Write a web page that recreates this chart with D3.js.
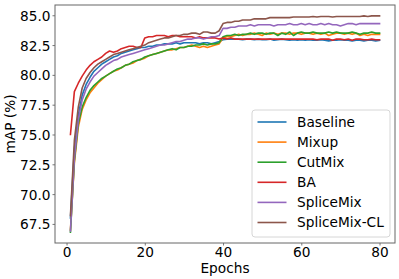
<!DOCTYPE html>
<html>
<head>
<meta charset="utf-8">
<script src="https://cdnjs.cloudflare.com/ajax/libs/d3/7.8.5/d3.min.js"></script>
<style>
    body { margin: 0; background: #fff; }
    svg { display: block; font-family: 'DejaVu Sans', sans-serif; }
</style>
</head>
<body>
<svg id="chart" width="399" height="279"></svg>
<script>
    // mAP per epoch
    var seriesNames = ['Baseline', 'Mixup', 'CutMix', 'BA', 'SpliceMix', 'SpliceMix-CL'];
    var seriesColors = ['#1f77b4', '#ff7f0e', '#2ca02c', '#d62728', '#9467bd', '#8c564b'];
    var yTicks = [67.5, 70.0, 72.5, 75.0, 77.5, 80.0, 82.5, 85.0];
    var xTicks = [0, 20, 40, 60, 80];

    var baseline = [
        68.0, 73.8, 76.6, 78.3, 79.2, 79.8, 80.3, 80.6, 80.9, 81.1,
        81.3, 81.5, 81.6, 81.8, 81.9, 82.0, 82.1, 82.2, 82.3, 82.3,
        82.4, 82.4, 82.5, 82.5, 82.6, 82.6, 82.6, 82.7, 82.6, 82.7,
        82.7, 82.7, 82.7, 82.6, 82.7, 82.7, 82.6, 82.7, 82.8, 82.95,
        83.0, 83.0, 83.0, 83.0, 82.95, 83.0, 83.0, 82.95, 83.0, 82.95,
        82.95, 83.0, 82.9, 82.95, 83.0, 82.95, 82.9, 82.95, 82.9, 82.95,
        82.9, 82.95, 82.9, 82.9, 82.95, 82.9, 82.85, 82.9, 82.9, 82.95,
        82.9, 82.9, 82.85, 82.9, 82.9, 82.85, 82.9, 82.9, 82.85, 82.9
    ];
    var mixup = [
        67.0, 72.6, 75.6, 77.1, 77.9, 78.5, 78.9, 79.3, 79.6, 79.9,
        80.1, 80.3, 80.4, 80.6, 80.8, 80.9, 81.0, 81.2, 81.3, 81.4,
        81.6, 81.7, 81.8, 81.9, 82.0, 82.1, 82.1, 82.2, 82.3, 82.3,
        82.4, 82.5, 82.4, 82.3, 82.4, 82.3, 82.4, 82.5, 82.6, 83.1,
        83.2, 83.2, 83.3, 83.4, 83.3, 83.4, 83.4, 83.5, 83.4, 83.3,
        83.5, 83.4, 83.5, 83.4, 83.5, 83.5, 83.4, 83.5, 83.5, 83.4,
        83.5, 83.5, 83.4, 83.5, 83.4, 83.5, 83.3, 83.4, 83.5, 83.5,
        83.4, 83.5, 83.4, 83.5, 83.3, 83.4, 83.3, 83.4, 83.4, 83.4
    ];
    var cutmix = [
        66.8, 72.8, 75.9, 77.3, 78.1, 78.7, 79.1, 79.4, 79.7, 79.9,
        80.1, 80.3, 80.5, 80.6, 80.8, 80.9, 81.1, 81.2, 81.3, 81.5,
        81.6, 81.7, 81.8, 81.9, 82.0, 82.1, 82.2, 82.1, 82.3, 82.3,
        82.4, 82.4, 82.5, 82.5, 82.6, 82.5, 82.6, 82.6, 82.7, 83.2,
        83.3, 83.3, 83.4, 83.3, 83.4, 83.4, 83.5, 83.4, 83.5, 83.5,
        83.4, 83.5, 83.5, 83.3, 83.5, 83.4, 83.6, 83.3, 83.5, 83.6,
        83.5, 83.5, 83.6, 83.5, 83.5, 83.5, 83.6, 83.5, 83.6, 83.5,
        83.5, 83.5, 83.6, 83.5, 83.4, 83.5, 83.5, 83.6, 83.5, 83.5
    ];
    var ba = [
        75.0, 78.6, 79.3, 79.9, 80.4, 80.8, 81.1, 81.3, 81.5, 81.8,
        82.0, 81.9, 82.0, 82.2, 82.3, 82.4, 82.4, 82.3, 82.3, 83.1,
        83.2, 83.2, 83.3, 83.3, 83.3, 83.2, 83.3, 83.3, 83.2, 83.2,
        83.2, 83.2, 83.1, 83.2, 83.1, 83.1, 83.1, 83.1, 83.0, 83.1,
        83.0, 83.1, 83.0, 83.0, 83.0, 83.0, 83.0, 83.0, 83.0, 83.0,
        83.0, 83.0, 83.0, 83.0, 83.0, 83.0, 83.0, 83.0, 83.0, 83.0,
        83.0, 83.0, 83.0, 82.95, 83.0, 83.0, 83.0, 82.9, 83.0, 83.0,
        82.95, 83.0, 82.9, 83.0, 83.0, 82.95, 82.95, 83.0, 82.95, 82.95
    ];
    var splicemix = [
        66.9, 73.0, 76.2, 77.9, 78.8, 79.4, 79.9, 80.2, 80.5, 80.8,
        81.0, 81.2, 81.3, 81.5, 81.6, 81.7, 81.8, 81.9, 82.0, 82.1,
        82.2, 82.3, 82.4, 82.5, 82.5, 82.6, 82.7, 82.8, 82.8, 82.9,
        83.0, 83.0, 83.1, 83.1, 83.0, 83.1, 83.2, 83.2, 83.3, 83.9,
        83.9, 84.0, 84.0, 84.1, 84.1, 84.1, 84.2, 84.1, 84.2, 84.2,
        84.2, 84.2, 84.1, 84.2, 84.2, 84.2, 84.3, 84.2, 84.2, 84.3,
        84.2, 84.3, 84.2, 84.2, 84.3, 84.2, 84.3, 84.2, 84.2, 84.1,
        84.2, 84.3, 84.3, 84.2, 84.3, 84.3, 84.3, 84.3, 84.3, 84.3
    ];
    var splicemixCL = [
        68.2, 74.5, 77.3, 78.9, 79.7, 80.2, 80.6, 80.9, 81.1, 81.3,
        81.5, 81.7, 81.8, 81.9, 82.0, 82.1, 82.2, 82.3, 82.4, 82.5,
        82.7, 82.8, 82.9, 83.0, 83.1, 83.1, 83.2, 83.3, 83.3, 83.4,
        83.4, 83.5, 83.5, 83.4, 83.6, 83.6, 83.5, 83.5, 83.7, 84.3,
        84.4, 84.4, 84.5, 84.5, 84.6, 84.6, 84.6, 84.7, 84.7, 84.7,
        84.7, 84.8, 84.8, 84.8, 84.8, 84.8, 84.8, 84.85, 84.85, 84.85,
        84.85, 84.85, 84.9, 84.85, 84.9, 84.9, 84.9, 84.85, 84.9, 84.9,
        84.9, 84.9, 84.9, 84.9, 84.9, 84.95, 84.9, 84.95, 84.95, 84.95
    ];

    var seriesValues = [baseline, mixup, cutmix, ba, splicemix, splicemixCL];

    var FONT_SIZE = 13.7,
        TICK_LEN = 2.5,
        margin = {left: 55, right: 4, top: 5, bottom: 36};

    var svg = d3.select('#chart'),
        width = +svg.attr('width'),
        height = +svg.attr('height'),
        plotW = width - margin.left - margin.right,
        plotH = height - margin.top - margin.bottom;

    // matplotlib style limits: 5% padding around the data
    var x = d3.scaleLinear().domain([-2.95, 83.95]).range([0, plotW]),
        y = d3.scaleLinear().domain([65.9, 85.86]).range([plotH, 0]);

    var g = svg.append('g')
        .attr('transform', `translate(${margin.left},${margin.top})`);

    var line = d3.line()
        .x((d, i) => x(i + 1))
        .y(d => y(d));

    g.selectAll('path.series')
        .data(seriesValues)
        .enter().append('path')
        .attr('class', 'series')
        .attr('d', line)
        .attr('fill', 'none')
        .attr('stroke', (d, i) => seriesColors[i])
        .attr('stroke-width', 1.6)
        .attr('stroke-linejoin', 'round')
        .attr('stroke-linecap', 'square');

    // axes
    var xAxis = g.append('g')
        .attr('transform', `translate(0,${plotH})`)
        .call(d3.axisBottom(x).tickValues(xTicks).tickSize(TICK_LEN).tickPadding(2).tickFormat(d3.format('d')));
    var yAxis = g.append('g')
        .call(d3.axisLeft(y).tickValues(yTicks).tickSize(TICK_LEN).tickPadding(2).tickFormat(d3.format('.1f')));

    [xAxis, yAxis].forEach(ax => {
        ax.select('.domain').remove();
        ax.selectAll('line').attr('stroke', '#555').attr('stroke-width', 0.8);
        ax.selectAll('text')
            .attr('fill', '#000')
            .style('font-family', 'DejaVu Sans')
            .style('font-size', FONT_SIZE + 'px');
    });
    yAxis.selectAll('text').attr('dy', '0.36em');

    // frame
    g.append('rect')
        .attr('x', 0)
        .attr('y', 0)
        .attr('width', plotW)
        .attr('height', plotH)
        .attr('fill', 'none')
        .attr('stroke', '#666')
        .attr('stroke-width', 1);

    // axis titles
    svg.append('text')
        .attr('x', margin.left + plotW / 2)
        .attr('y', 273)
        .attr('text-anchor', 'middle')
        .style('font-size', FONT_SIZE + 'px')
        .text('Epochs');
    svg.append('text')
        .attr('transform', `translate(15,${margin.top + plotH / 2}) rotate(-90)`)
        .attr('text-anchor', 'middle')
        .style('font-size', FONT_SIZE + 'px')
        .text('mAP (%)');

    // legend
    var legend = svg.append('g').attr('transform', 'translate(252,110)');
    legend.append('rect')
        .attr('width', 138)
        .attr('height', 127)
        .attr('rx', 3)
        .attr('fill', '#fff')
        .attr('fill-opacity', 0.8)
        .attr('stroke', '#d6d6d6')
        .attr('stroke-width', 1);

    var item = legend.selectAll('g.item')
        .data(seriesNames)
        .enter().append('g')
        .attr('class', 'item')
        .attr('transform', (d, i) => `translate(0,${12 + i * 20.1})`);
    item.append('line')
        .attr('x1', 5.5)
        .attr('x2', 34.5)
        .attr('stroke', (d, i) => seriesColors[i])
        .attr('stroke-width', 1.6);
    item.append('text')
        .attr('x', 45)
        .attr('dy', '0.36em')
        .style('font-size', FONT_SIZE + 'px')
        .text(d => d);
</script>
</body>
</html>
